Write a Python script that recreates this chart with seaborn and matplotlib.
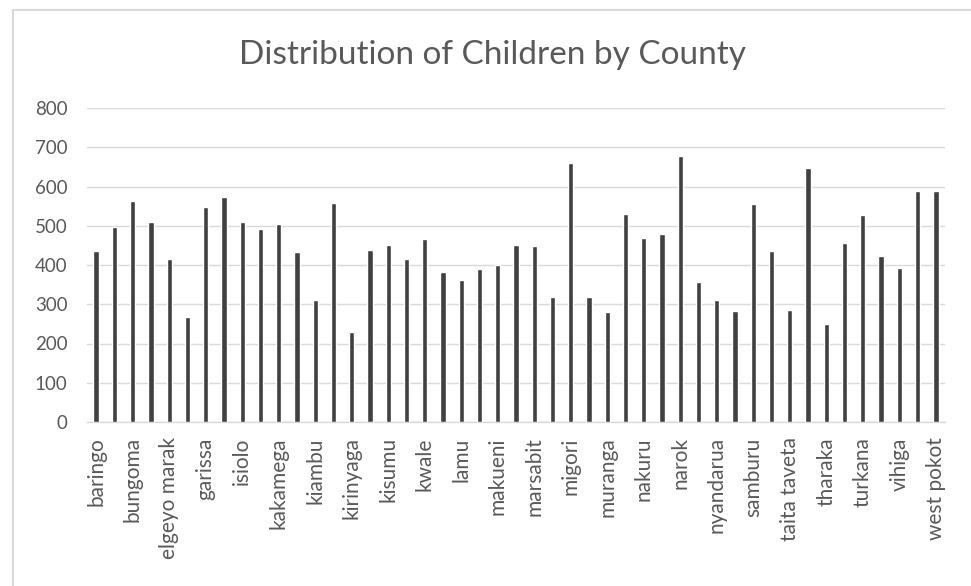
import matplotlib
matplotlib.use("Agg")
import matplotlib.pyplot as plt
from matplotlib.lines import Line2D
import seaborn as sns
import pandas as pd

counties = [
    "baringo", "bomet", "bungoma", "busia", "elgeyo marak", "embu", "garissa",
    "homa bay", "isiolo", "kajiado", "kakamega", "kericho", "kiambu", "kilifi",
    "kirinyaga", "kisii", "kisumu", "kitui", "kwale", "laikipia", "lamu",
    "machakos", "makueni", "mandera", "marsabit", "meru", "migori", "mombasa",
    "muranga", "nairobi", "nakuru", "nandi", "narok", "nyamira", "nyandarua",
    "nyeri", "samburu", "siaya", "taita taveta", "tana river", "tharaka",
    "trans nzoia", "turkana", "uasin gishu", "vihiga", "wajir", "west pokot",
]
children = [
    435, 498, 563, 510, 415, 268, 549, 572, 510, 491, 504, 432, 311, 559,
    229, 438, 451, 415, 465, 383, 363, 390, 399, 451, 448, 318, 661, 318,
    279, 530, 468, 478, 677, 357, 311, 282, 556, 435, 285, 647, 249, 455,
    527, 422, 392, 589, 589,
]
y_ticks = [0, 100, 200, 300, 400, 500, 600, 700, 800]
title = "Distribution of Children by County"

df = pd.DataFrame({"county": counties, "children": children})

sns.set_theme(style="white")
plt.rcParams["font.family"] = ["Lato", "DejaVu Sans"]

text_color = "#595959"
grid_color = "#d9d9d9"

fig = plt.figure(figsize=(9.71, 5.86), dpi=100)
ax = fig.add_axes([87 / 971, 1 - 422 / 586, (945 - 87) / 971, (422 - 108) / 586])

sns.barplot(data=df, x="county", y="children", color="#404040",
            saturation=1, width=0.29, ax=ax, zorder=3)

ax.set_ylim(0, 800)
ax.set_xlim(-0.5, len(counties) - 0.5)
ax.set_yticks(y_ticks)
ax.set_yticklabels([str(v) for v in y_ticks], color=text_color, fontsize=13.5)
ax.yaxis.grid(True, color=grid_color, linewidth=1.0, zorder=0)
ax.xaxis.grid(False)

# every other county is labelled on the category axis
shown = list(range(0, len(counties), 2))
ax.set_xticks(shown)
ax.set_xticklabels([counties[i] for i in shown], rotation=90,
                   color=text_color, fontsize=15, va="top")
ax.tick_params(axis="y", length=0, pad=14)
ax.tick_params(axis="x", length=0, pad=11)
ax.set_xlabel("")
ax.set_ylabel("")

for side in ("top", "right", "left"):
    ax.spines[side].set_visible(False)
ax.spines["bottom"].set_color(grid_color)
ax.spines["bottom"].set_linewidth(1.0)

fig.text(492 / 971, 1 - 55 / 586, title, ha="center", va="center",
         fontsize=24, color=text_color)

# chart-area frame
fig.add_artist(Line2D([13 / 971, 13 / 971], [0, 1 - 10 / 586],
                      transform=fig.transFigure, color=grid_color, lw=1.5))
fig.add_artist(Line2D([13 / 971, 1], [1 - 10 / 586, 1 - 10 / 586],
                      transform=fig.transFigure, color=grid_color, lw=1.5))

fig.savefig("out.png", dpi=100)
